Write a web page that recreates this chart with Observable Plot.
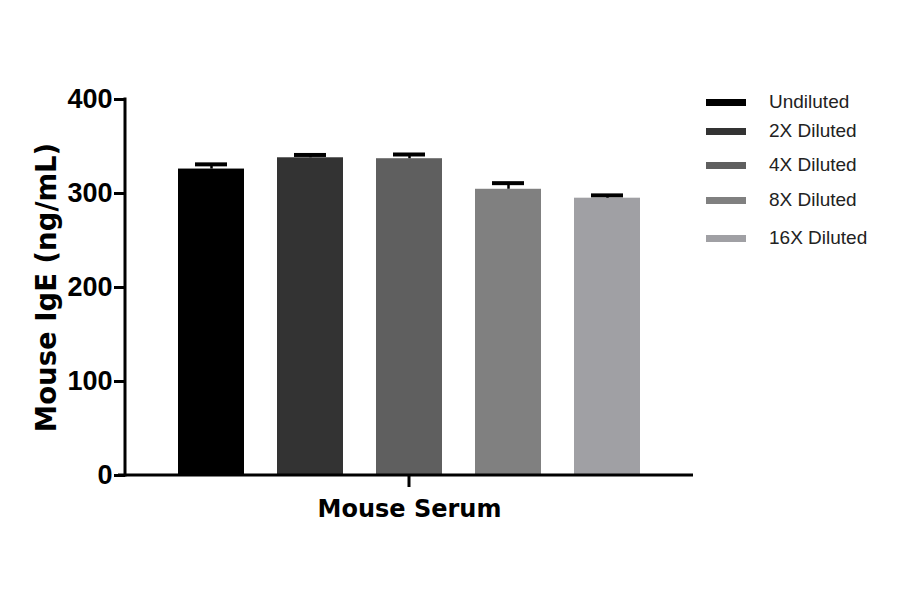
<!DOCTYPE html>
<html><head><meta charset="utf-8">
<script src="https://cdn.jsdelivr.net/npm/d3@7"></script>
<script src="https://cdn.jsdelivr.net/npm/@observablehq/plot@0.6"></script>
<style>
body{margin:0;background:#fff;}
#wrap{position:relative;width:900px;height:594px;}
#legend{position:absolute;left:706px;top:0;font-family:"Liberation Sans",Arial,sans-serif;font-size:19px;color:#222;}
.item{position:absolute;left:0;white-space:nowrap;}
.sw{position:absolute;left:0;width:40px;height:7px;}
.lb{position:absolute;left:63px;}
</style></head>
<body><div id="wrap"><div id="legend"></div></div>
<script>
const categories = ["Undiluted","2X Diluted","4X Diluted","8X Diluted","16X Diluted"];
const values = [326, 338, 337, 304.5, 295];
const errors = [5, 3, 4.5, 6.5, 3];
const colors = ["#000000","#333333","#5f5f5f","#808080","#a0a0a4"];
const yTicks = [0,100,200,300,400];
const legendY = [102, 131, 165, 200, 238];

const data = categories.map((c,i)=>({cat:c, v:values[i], e:errors[i], hi:values[i]+errors[i]}));

const axisLines = (index, scales, values, dims) => {
  const g = d3.create("svg:g");
  const x0 = dims.marginLeft, x1 = dims.width - dims.marginRight;
  const y0 = dims.height - dims.marginBottom, yT = dims.marginTop;
  g.append("line").attr("x1",x0).attr("x2",x0).attr("y1",yT-1.5).attr("y2",y0+1.5).attr("stroke","#000").attr("stroke-width",3);
  g.append("line").attr("x1",x0-7).attr("x2",x1).attr("y1",y0).attr("y2",y0).attr("stroke","#000").attr("stroke-width",3);
  const xm = (x0+x1)/2;
  g.append("line").attr("x1",xm).attr("x2",xm).attr("y1",y0).attr("y2",y0+12).attr("stroke","#000").attr("stroke-width",3);
  return g.node();
};

const chart = Plot.plot({
  width: 900, height: 594,
  marginLeft: 125, marginRight: 207, marginTop: 99, marginBottom: 119,
  style: {fontFamily: "'Liberation Sans', Arial, sans-serif", background: "#fff"},
  x: {type: "band", domain: categories, paddingInner: 0.337, paddingOuter: 0.523, axis: null},
  y: {domain: [0, 400]},
  color: {domain: categories, range: colors},
  marks: [
    Plot.barY(data, {x: "cat", y: "v", fill: "cat"}),
    Plot.ruleX(data, {x: "cat", y1: "v", y2: "hi", stroke: "#000", strokeWidth: 2.5}),
    Plot.tickY(data, {x: "cat", y: "hi", stroke: "#000", strokeWidth: 4, insetLeft: 17, insetRight: 17}),
    Plot.axisY({ticks: yTicks, tickSize: 11, tickPadding: 2, strokeWidth: 3, fontSize: 27, fontWeight: "bold", fill: "#000", label: null}),
    axisLines,
    Plot.text(["Mouse IgE (ng/mL)"], {frameAnchor: "left", textAnchor: "middle", dx: -78, rotate: -90, fontSize: 27.5, fontWeight: "bold", fontFamily: "'DejaVu Sans', sans-serif", fill: "#000"}),
    Plot.text(["Mouse Serum"], {frameAnchor: "bottom", dy: 41, fontSize: 24, fontWeight: "bold", fontFamily: "'DejaVu Sans', sans-serif", fill: "#000"})
  ]
});
document.getElementById("wrap").prepend(chart);
chart.style.position = "absolute"; chart.style.left = "0"; chart.style.top = "0";

const leg = document.getElementById("legend");
categories.forEach((c,i)=>{
  const it = document.createElement("div"); it.className="item"; it.style.top = (legendY[i]) + "px";
  const sw = document.createElement("div"); sw.className="sw"; sw.style.background = colors[i]; sw.style.top = "-3.5px";
  const lb = document.createElement("div"); lb.className="lb"; lb.textContent = c; lb.style.top = "-11px";
  it.appendChild(sw); it.appendChild(lb); leg.appendChild(it);
});
</script></body></html>
